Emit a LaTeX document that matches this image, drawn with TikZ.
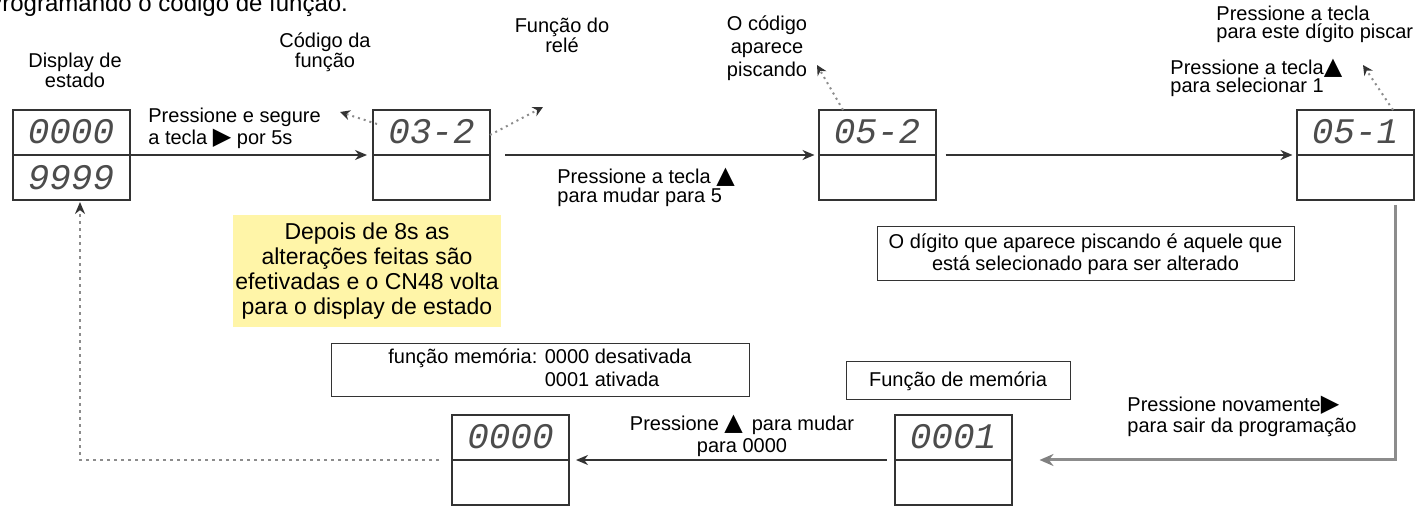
\documentclass[tikz,border=0pt]{standalone}
\usepackage{fontspec}
\setmainfont{Liberation Sans}
\newfontfamily\segfont{Liberation Mono}
\newfontfamily\simbfont{DejaVu Sans}
\usetikzlibrary{arrows.meta}
\definecolor{contorno}{rgb}{0.2,0.2,0.2}
\definecolor{digito}{rgb}{0.3,0.3,0.3}
\definecolor{cinza}{rgb}{0.55,0.55,0.55}
\definecolor{amarelo}{rgb}{1,0.96,0.66}
\newcommand{\simb}[1]{\smash{\simbfont\fontsize{12}{12}\selectfont #1}}

\begin{document}
\begin{tikzpicture}[x=0.5pt, y=-0.5pt, font=\fontsize{10}{11}\selectfont]
	\tikzstyle{display}=[rectangle, draw=contorno, line width=1pt, minimum width=58.5pt, minimum height=45pt, inner sep=0pt, outer sep=0pt]
	\tikzstyle{digitos}=[inner sep=0pt, text=digito, font=\segfont\itshape\fontsize{18}{18}\selectfont]
	\tikzstyle{texto}=[inner sep=0pt, align=left, anchor=base west]
	\tikzstyle{rotulo}=[inner sep=0pt, align=center, anchor=base]
	\tikzstyle{caixa}=[rectangle, draw=contorno, line width=0.5pt, inner sep=0pt, align=center]
	\tikzstyle{seta}=[draw=contorno, line width=1pt, -{Stealth[length=6pt,width=5pt]}]
	\tikzstyle{setacinza}=[draw=cinza, line width=1.5pt, -{Stealth[length=7pt,width=6pt,color=gray]}]
	\tikzstyle{pontilhada}=[draw=cinza, line width=1pt, dotted, -{Stealth[length=5pt,width=5pt,color=contorno]}]
	\tikzstyle{tracejada}=[draw=cinza, line width=1pt, dash pattern=on 1.5pt off 2pt, -{Stealth[length=6pt,width=5pt,color=contorno]}]

	\useasboundingbox (0,0) rectangle (1419,507);

	% TITULO
	\node[texto, font=\fontsize{12}{12}\selectfont] (titulo) at (-14,12) {Programando o código de função.};

	% DISPLAYS
	\node[display] (D1) at (71,155) {};
	\node[display] (D2) at (431.5,155) {};
	\node[display] (D3) at (877,155) {};
	\node[display] (D4) at (1355,155) {};
	\node[display] (D5) at (510.5,460) {};
	\node[display] (D6) at (953,460) {};
	\foreach \d in {D1,D2,D3,D4,D5,D6}
		\draw[draw=contorno, line width=1pt] (\d.west) -- (\d.east);

	% DIGITOS
	\node[digitos] (D1a) at ([yshift=-11pt]D1.north) {0000};
	\node[digitos] (D1b) at ([yshift=11pt]D1.south) {9999};
	\node[digitos] (D2a) at ([yshift=-11pt]D2.north) {03-2};
	\node[digitos] (D3a) at ([yshift=-11pt]D3.north) {05-2};
	\node[digitos] (D4a) at ([yshift=-11pt]D4.north) {05-1};
	\node[digitos] (D5a) at ([yshift=-11pt]D5.north) {0000};
	\node[digitos] (D6a) at ([yshift=-11pt]D6.north) {0001};

	% ROTULOS (base = ultima linha)
	\node[rotulo, font=\fontsize{10}{9}\selectfont] (L1) at (75,88) {Display de\\estado};
	\node[rotulo, font=\fontsize{10}{10}\selectfont] (L2) at (325,68) {Código da\\função};
	\node[rotulo, font=\fontsize{10}{10}\selectfont] (L3) at (562,53) {Função do\\relé};
	\node[rotulo, font=\fontsize{10}{11.5}\selectfont] (L4) at (767,77) {O código\\aparece\\piscando};
	\node[texto, font=\fontsize{10}{9}\selectfont] (L5) at (1216,39) {Pressione a tecla\\para este dígito piscar};
	\node[texto, font=\fontsize{10}{9}\selectfont] (L6) at (1170,93) {Pressione a tecla\simb{▲}\\para selecionar 1};
	\node[texto] (L7) at (148,145) {Pressione e segure\\a tecla \simb{▶} por 5s};
	\node[texto, font=\fontsize{10}{9.5}\selectfont] (L8) at (557,203) {Pressione a tecla \simb{▲}\\para mudar para 5};
	\node[rotulo, font=\fontsize{10}{11.5}\selectfont] (L9) at (742,453) {Pressione \simb{▲} \,para mudar\\para 0000};
	\node[texto, font=\fontsize{10}{10.5}\selectfont] (L10) at (1127,433) {Pressione novamente\simb{▶}\\para sair da programação};

	% NOTAS
	\node[rectangle, fill=amarelo, minimum width=134pt, minimum height=56pt, inner sep=0pt, align=center, font=\fontsize{11.5}{12.5}\selectfont] (nota) at (367,271) {Depois de 8s as\\alterações feitas são\\efetivadas e o CN48 volta\\para o display de estado};
	\node[caixa, minimum width=208.5pt, minimum height=27pt] (C1) at (1085.5,254) {O dígito que aparece piscando é aquele que\\está selecionado para ser alterado};
	\node[caixa, minimum width=209pt, minimum height=26.5pt, font=\fontsize{10}{11.5}\selectfont] (C2) at (540,370.5) {\begin{tabular}{@{}l@{ }l@{}}
			função memória: & 0000 desativada \\
			& 0001 ativada \\
		\end{tabular}};
	\node[caixa, minimum width=112pt, minimum height=19pt] (C3) at (958,381) {Função de memória};

	% SETAS
	\path[seta]
		(D1) edge [shorten >=3pt] (D2)
		(D2) edge [shorten <=7.5pt, shorten >=2pt] (D3)
		(D3) edge [shorten <=5pt, shorten >=2pt] (D4)
		(D6) edge [shorten <=4pt, shorten >=3.5pt] (D5)
	;
	\draw[setacinza] ([xshift=-9pt,yshift=-2.5pt]D4.south east) |- ([xshift=14pt]D6.east);
	\draw[tracejada] ([xshift=-6.5pt]D5.west) -| ([xshift=4.5pt,yshift=-1pt]D1.south);

	% PISCANDO
	\coordinate (P1) at (340,112);
	\coordinate (P2) at (543,107);
	\coordinate (P3) at (817,65);
	\coordinate (P4) at (1363,65);
	\draw[pontilhada] ([xshift=2pt,yshift=-7pt]D2.north west) -- (P1);
	\draw[pontilhada] ([yshift=10pt]D2.east) -- (P2);
	\draw[pontilhada] ([xshift=-17pt]D3.north) -- (P3);
	\draw[pontilhada] ([xshift=19pt]D4.north) -- (P4);
\end{tikzpicture}
\end{document}
